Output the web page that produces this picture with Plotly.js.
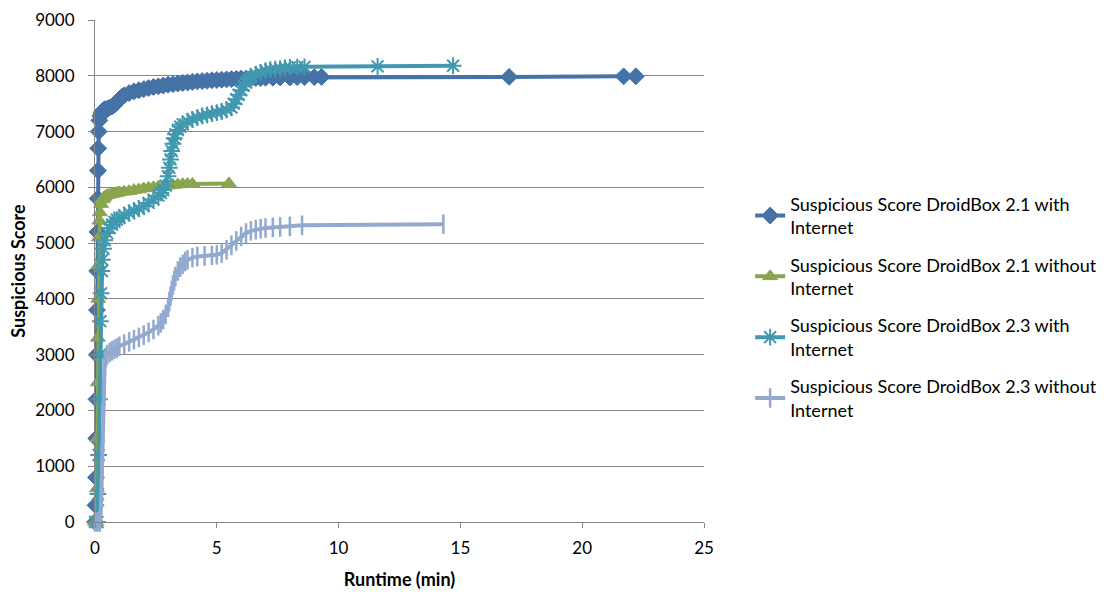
<!DOCTYPE html>
<html>
<head>
<meta charset="utf-8">
<script src="https://cdn.plot.ly/plotly-3.0.1.min.js"></script>
<style>html,body{margin:0;padding:0;background:#fff;}#chart{width:1113px;height:592px;}</style>
</head>
<body>
<div id="chart"></div>
<script>
// Series 1: DroidBox 2.1 with Internet
var x21with = [0, 0.02, 0.04, 0.05, 0.06, 0.07, 0.08, 0.09, 0.1, 0.11, 0.12, 0.13, 0.15, 0.18, 0.22, 0.26, 0.3, 0.35, 0.4, 0.5, 0.6, 0.7, 0.8, 0.9, 1.0, 1.1, 1.2, 1.4, 1.6, 1.8, 2.0, 2.2, 2.4, 2.6, 2.8, 3.0, 3.2, 3.4, 3.6, 3.8, 4.0, 4.2, 4.4, 4.6, 4.8, 5.0, 5.2, 5.4, 5.6, 5.8, 6.0, 6.2, 6.4, 6.6, 6.8, 7.0, 7.3, 7.6, 8.0, 8.3, 8.6, 9.0, 9.3, 17.0, 21.7, 22.2];
var y21with = [0, 300, 800, 1500, 2200, 3000, 3800, 4500, 5200, 5800, 6300, 6700, 7000, 7200, 7280, 7330, 7360, 7380, 7400, 7410, 7430, 7450, 7480, 7530, 7580, 7620, 7650, 7690, 7720, 7740, 7760, 7780, 7800, 7810, 7825, 7840, 7850, 7860, 7870, 7880, 7890, 7900, 7905, 7910, 7920, 7925, 7930, 7935, 7940, 7945, 7950, 7950, 7955, 7960, 7960, 7965, 7965, 7970, 7970, 7975, 7975, 7975, 7980, 7980, 7990, 7990];
// Series 2: DroidBox 2.1 without Internet
var x21without = [0, 0.05, 0.08, 0.1, 0.11, 0.12, 0.13, 0.14, 0.16, 0.18, 0.2, 0.25, 0.3, 0.35, 0.4, 0.5, 0.6, 0.7, 0.8, 0.9, 1.0, 1.2, 1.4, 1.6, 1.8, 2.0, 2.2, 2.4, 2.6, 2.8, 3.0, 3.2, 3.4, 3.6, 3.8, 4.0, 5.5];
var y21without = [0, 0, 600, 1500, 2500, 3300, 4000, 4600, 5100, 5400, 5550, 5700, 5780, 5810, 5830, 5860, 5870, 5880, 5890, 5900, 5910, 5920, 5930, 5950, 5960, 5980, 5990, 6000, 6010, 6020, 6030, 6040, 6050, 6055, 6060, 6060, 6070];
// Series 3: DroidBox 2.3 with Internet
var x23with = [0, 0.1, 0.12, 0.15, 0.18, 0.2, 0.22, 0.25, 0.28, 0.3, 0.35, 0.4, 0.5, 0.6, 0.7, 0.8, 0.9, 1.0, 1.2, 1.4, 1.6, 1.8, 2.0, 2.2, 2.4, 2.6, 2.7, 2.8, 2.9, 3.0, 3.05, 3.1, 3.15, 3.2, 3.25, 3.3, 3.4, 3.5, 3.6, 3.8, 4.0, 4.2, 4.4, 4.6, 4.8, 5.0, 5.2, 5.4, 5.6, 5.7, 5.8, 5.9, 6.0, 6.1, 6.2, 6.3, 6.4, 6.6, 6.8, 7.0, 7.2, 7.4, 7.6, 7.8, 8.0, 8.3, 8.6, 11.6, 14.7];
var y23with = [0, 0, 500, 1200, 2200, 3000, 3600, 4100, 4500, 4700, 4900, 5050, 5180, 5270, 5330, 5380, 5420, 5450, 5500, 5540, 5580, 5620, 5660, 5720, 5780, 5850, 5900, 5950, 6030, 6200, 6350, 6500, 6650, 6780, 6880, 6950, 7030, 7090, 7130, 7180, 7220, 7250, 7280, 7300, 7320, 7340, 7360, 7390, 7430, 7500, 7580, 7660, 7740, 7820, 7880, 7940, 7980, 8030, 8060, 8090, 8110, 8120, 8130, 8140, 8150, 8155, 8160, 8170, 8180];
// Series 4: DroidBox 2.3 without Internet
var x23without = [0, 0.1, 0.2, 0.25, 0.28, 0.3, 0.32, 0.34, 0.36, 0.4, 0.45, 0.5, 0.6, 0.7, 0.8, 0.9, 1.0, 1.2, 1.4, 1.6, 1.8, 2.0, 2.2, 2.4, 2.6, 2.7, 2.8, 2.9, 3.0, 3.05, 3.1, 3.15, 3.2, 3.25, 3.3, 3.4, 3.5, 3.6, 3.7, 3.8, 4.0, 4.2, 4.5, 4.8, 5.0, 5.2, 5.4, 5.6, 5.8, 6.0, 6.2, 6.4, 6.6, 6.8, 7.0, 7.3, 7.6, 8.0, 8.5, 14.3];
var y23without = [0, 0, 0, 300, 900, 1500, 2000, 2400, 2700, 2880, 2950, 3000, 3040, 3070, 3100, 3120, 3150, 3190, 3230, 3270, 3310, 3350, 3400, 3450, 3520, 3570, 3630, 3720, 3850, 3950, 4050, 4150, 4250, 4330, 4400, 4500, 4570, 4620, 4670, 4700, 4740, 4760, 4770, 4780, 4790, 4820, 4880, 4960, 5040, 5120, 5180, 5220, 5240, 5260, 5270, 5280, 5290, 5300, 5320, 5340];

var seriesNames = [
  "Suspicious Score DroidBox 2.1 with<br>Internet",
  "Suspicious Score DroidBox 2.1 without<br>Internet",
  "Suspicious Score DroidBox 2.3 with<br>Internet",
  "Suspicious Score DroidBox 2.3 without<br>Internet"
];
var colors = ["#4572A7", "#89A54E", "#4198AF", "#93A9CF"];

function tr(x, y, i, sym, size, mlw) {
  return {
    x: x, y: y, name: seriesNames[i], type: "scatter", mode: "lines+markers",
    legendgroup: "g" + i, cliponaxis: false,
    line: {color: colors[i], width: 4},
    marker: {symbol: sym, size: size, color: colors[i], line: {color: colors[i], width: mlw}}
  };
}

var data = [
  tr(x21with, y21with, 0, "diamond", 13, 1),
  tr(x21without, y21without, 1, "triangle-up", 13, 1),
  tr(x23with, y23with, 2, "asterisk-open", 14, 2),
  tr(x23without, y23without, 3, "line-ns-open", 14, 2.5)
];

var tickFont = {family: "Lato, 'Open Sans', sans-serif", size: 17, color: "#000"};
var titleFont = {family: "Lato, 'Open Sans', sans-serif", size: 18, color: "#000"};
var layout = {
  width: 1113, height: 592,
  margin: {l: 95, r: 408, t: 20, b: 70},
  paper_bgcolor: "#fff", plot_bgcolor: "#fff",
  showlegend: true,
  font: tickFont,
  xaxis: {
    range: [0, 25], dtick: 5, tick0: 0,
    showgrid: false, zeroline: false,
    showline: true, linecolor: "#868686", linewidth: 1,
    ticks: "outside", ticklen: 5, tickcolor: "#868686",
    ticklabelstandoff: 6,
    tickfont: tickFont,
    title: {text: "<b>Runtime (min)</b>", font: titleFont, standoff: 15}
  },
  yaxis: {
    range: [0, 9000], dtick: 1000, tick0: 0,
    showgrid: true, gridcolor: "#868686", gridwidth: 1,
    zeroline: false,
    showline: true, linecolor: "#868686", linewidth: 1,
    ticks: "outside", ticklen: 6, tickcolor: "#868686",
    ticklabelstandoff: 10,
    tickfont: tickFont,
    title: {text: "<b>Suspicious Score</b>", font: titleFont, standoff: 4}
  },
  legend: {
    x: 1.074, xanchor: "left", y: 0.67, yanchor: "top",
    font: {family: "Lato, 'Open Sans', sans-serif", size: 18, color: "#000"},
    tracegroupgap: 11, bgcolor: "rgba(0,0,0,0)", itemwidth: 30
  }
};

Plotly.newPlot("chart", data, layout, {displayModeBar: false, staticPlot: true});
</script>
</body>
</html>
